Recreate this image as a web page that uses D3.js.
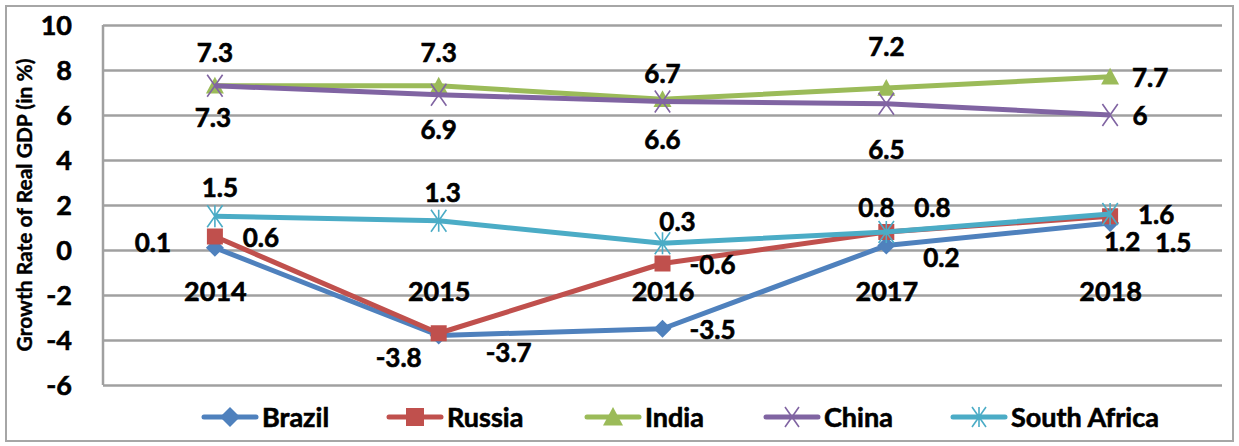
<!DOCTYPE html>
<html><head><meta charset="utf-8">
<script src="https://cdn.jsdelivr.net/npm/d3@7"></script>
<style>body{margin:0;background:#fff}svg{display:block}text{font-family:Lato,"Liberation Sans",sans-serif;font-weight:bold;fill:#000;stroke:#000;stroke-width:0.6px}</style>
</head><body><svg id="c" width="1239" height="446"></svg>
<script>
const years = ["2014","2015","2016","2017","2018"];
const seriesNames = ["Brazil","Russia","India","China","South Africa"];
const brazil = [0.1,-3.8,-3.5,0.2,1.2];
const russia = [0.6,-3.7,-0.6,0.8,1.5];
const india = [7.3,7.3,6.7,7.2,7.7];
const china = [7.3,6.9,6.6,6.5,6];
const southAfrica = [1.5,1.3,0.3,0.8,1.6];
const yTicks = [-6,-4,-2,0,2,4,6,8,10];

const colors = ["#4F81BD","#C0504D","#9BBB59","#8064A2","#4BACC6"];
const markers = ["diamond","square","triangle","x","star"];
// label offsets (dx, dy) relative to point, style only
const labelOffsets = [
  [[-62,-5],[-40,22],[50,1],[55,12],[12,19]],
  [[46,1],[70,19],[50,1],[-10,-24],[63,26]],
  [[0,-33],[0,-33],[0,-26],[0,-41],[40,1]],
  [[-2,32],[0,35],[0,38],[0,46],[30,1]],
  [[5,-29],[4,-28],[15,-22],[46,-24],[46,1]]
];
const allValues = [brazil,russia,india,china,southAfrica];

const svg = d3.select("#c");
const L=103,R=1222,T=25,B=385;
svg.append("rect").attr("x",6).attr("y",6).attr("width",1227).attr("height",435)
  .attr("fill","none").attr("stroke","#a6a6a6").attr("stroke-width",2);

const x = d3.scalePoint().domain(years).range([L,R]).padding(0.5);
const y = d3.scaleLinear().domain([-6,10]).range([B,T]);

// grid
const grid = svg.append("g").attr("transform",`translate(${L},0)`)
  .call(d3.axisLeft(y).tickValues(yTicks).tickSize(-(R-L)).tickFormat(""));
grid.select(".domain").remove();
grid.selectAll("line").attr("stroke","#a0a0a0").attr("stroke-width",2.5);
svg.append("line").attr("x1",L).attr("x2",L).attr("y1",T).attr("y2",B).attr("stroke","#a0a0a0").attr("stroke-width",2.5);

const fontFam = "Lato, 'Liberation Sans', sans-serif";
// y tick labels
const ya = svg.append("g").attr("transform",`translate(${L},0)`)
  .call(d3.axisLeft(y).tickValues(yTicks).tickSize(0).tickPadding(31).tickFormat(d=>String(d)));
ya.select(".domain").remove();
ya.selectAll("text").style("font-size","27px").attr("dy","0.36em").style("font-family",fontFam).style("font-weight","bold");

// y title
svg.append("text").attr("transform","translate(32,205) rotate(-90)").attr("text-anchor","middle")
  .style("font-size","21px").style("stroke-width","0.4px").text("Growth Rate of Real GDP (in %)");

// x category labels (next to 0 line)
const xa = svg.append("g").attr("transform",`translate(0,${y(0)})`)
  .call(d3.axisBottom(x).tickSize(0).tickPadding(32));
xa.select(".domain").remove();
xa.selectAll("text").style("font-size","27px").style("font-family",fontFam).style("font-weight","bold");

function drawMarker(g,type,color,cx,cy,s){
  if(type==="diamond"){
    g.append("path").attr("d",`M${cx},${cy-s}L${cx+s},${cy}L${cx},${cy+s}L${cx-s},${cy}Z`).attr("fill",color);
  } else if(type==="square"){
    g.append("rect").attr("x",cx-s).attr("y",cy-s).attr("width",2*s).attr("height",2*s).attr("fill",color);
  } else if(type==="triangle"){
    g.append("path").attr("d",`M${cx},${cy-s}L${cx+s},${cy+s*0.85}L${cx-s},${cy+s*0.85}Z`).attr("fill",color);
  } else if(type==="x"){
    g.append("path").attr("d",`M${cx-s*0.7},${cy-s}L${cx+s*0.7},${cy+s}M${cx+s*0.7},${cy-s}L${cx-s*0.7},${cy+s}`).attr("stroke",color).attr("stroke-width",1.6);
  } else if(type==="star"){
    g.append("path").attr("d",`M${cx-s*0.7},${cy-s}L${cx+s*0.7},${cy+s}M${cx+s*0.7},${cy-s}L${cx-s*0.7},${cy+s}M${cx},${cy-s}L${cx},${cy+s}`).attr("stroke",color).attr("stroke-width",1.6);
  }
}

const line = d3.line().x((d,i)=>x(years[i])).y(d=>y(d));
allValues.forEach((vals,si)=>{
  const g = svg.append("g");
  g.append("path").datum(vals).attr("d",line).attr("fill","none").attr("stroke",colors[si]).attr("stroke-width",5).attr("stroke-linejoin","round");
  vals.forEach((v,i)=>drawMarker(g,markers[si],colors[si],x(years[i]),y(v),si===1?8:(si>=3?11:9)));
});
// labels
allValues.forEach((vals,si)=>{
  vals.forEach((v,i)=>{
    const o = labelOffsets[si][i];
    svg.append("text").attr("x",x(years[i])+o[0]).attr("y",y(v)+o[1]).attr("dy","0.36em")
      .attr("text-anchor","middle").style("font-size","26px").text(String(v));
  });
});

// legend
const legX = [204,389,587,766,953];
seriesNames.forEach((n,si)=>{
  const g = svg.append("g");
  const x0 = legX[si], cy=417;
  g.append("line").attr("x1",x0).attr("x2",x0+52).attr("y1",cy).attr("y2",cy).attr("stroke",colors[si]).attr("stroke-width",5).attr("stroke-linecap","round");
  drawMarker(g,markers[si],colors[si],x0+26,cy,si===1?9:10);
  g.append("text").attr("x",x0+58).attr("y",cy).attr("dy","0.36em").style("font-size","27px").text(n);
});
</script></body></html>
